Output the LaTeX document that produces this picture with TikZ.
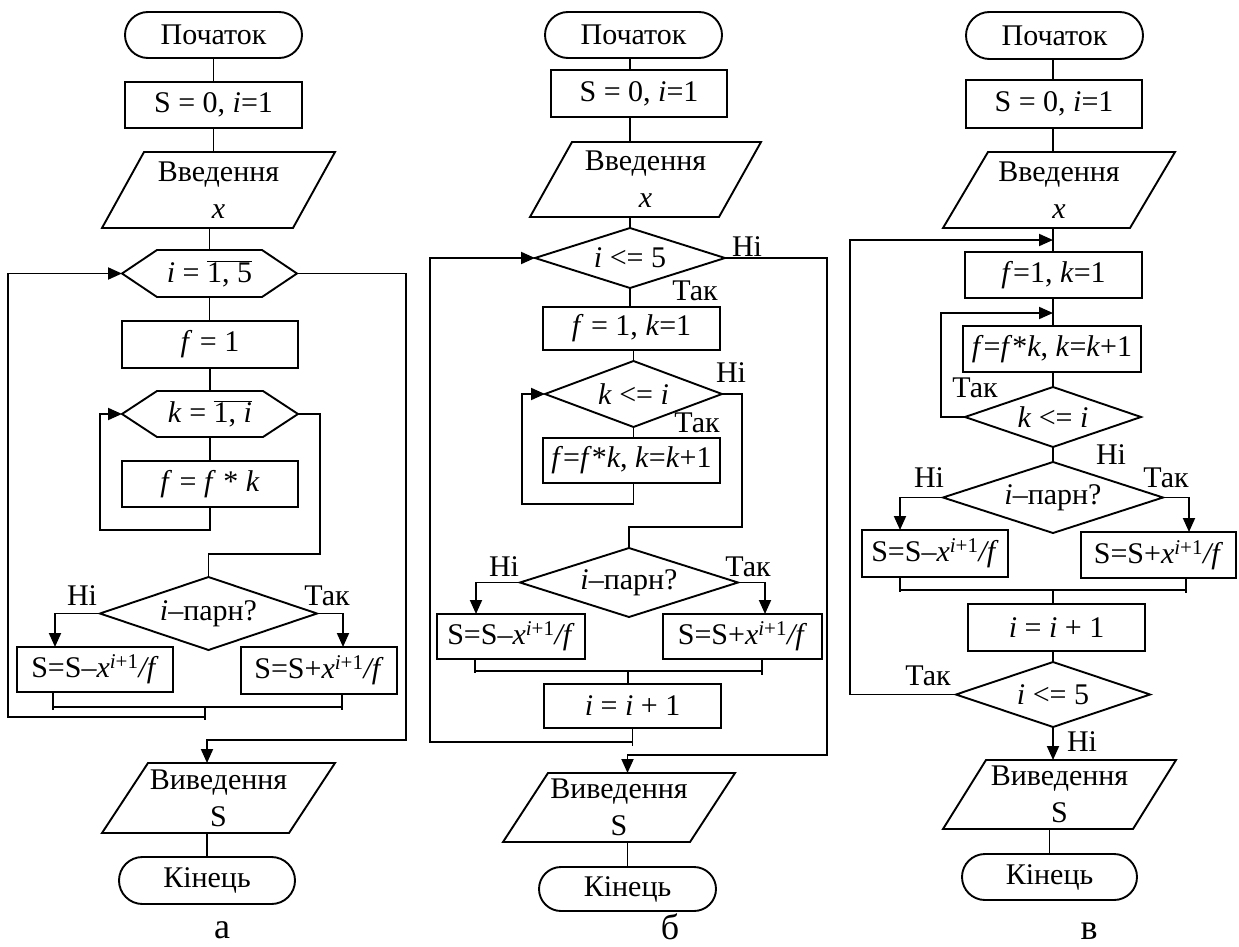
\documentclass[tikz,border=0pt]{standalone}
\usepackage{fontspec}
\setmainfont{Liberation Serif}
\usetikzlibrary{arrows.meta,calc,shapes.misc}
\newcommand\fs{\fontsize{30}{37}\selectfont}
\newcommand\mypar[2]{\draw ($(#1.north west)+(#2,0)$) -- (#1.north east) -- ($(#1.south east)+(-#2,0)$) -- (#1.south west) -- cycle;}
\newcommand\mydia[1]{\draw (#1.north) -- (#1.east) -- (#1.south) -- (#1.west) -- cycle;}
\newcommand\myhex[2]{\draw (#1.west) -- ($(#1.north west)+(#2,0)$) -- ($(#1.north east)+(-#2,0)$) -- (#1.east) -- ($(#1.south east)+(-#2,0)$) -- ($(#1.south west)+(#2,0)$) -- cycle;}
\newcommand\ov[1]{$\overline{\hbox{#1}}$}
\newcommand\Sminus{S=S–\textit{x}\textsuperscript{\textit{i}+1}\textit{/f}}
\newcommand\Splus{S=S+\textit{x}\textsuperscript{\textit{i}+1}\textit{/f}}
\begin{document}
\begin{tikzpicture}[x=1pt,y=-1pt,line width=1.9pt,
  >={Triangle[length=14pt,width=12pt]},
  every node/.style={font=\fs,inner sep=0pt,outer sep=0pt,align=center},
  term/.style={draw,rounded rectangle},
  proc/.style={draw,rectangle},
  ghost/.style={rectangle},
  caption/.style={font=\fontsize{36}{40}\selectfont,anchor=base}]
\useasboundingbox (0,0) rectangle (1239,947);

% ---------------- column a ----------------
\node[term,minimum width=177pt,minimum height=46pt] (a1) at (213.5,35) {Початок};
\node[proc,minimum width=177pt,minimum height=46pt] (a2) at (213.5,105) {S = 0, \textit{i}=1};
\node[ghost,minimum width=233pt,minimum height=76pt] (a3) at (218.5,190) {Введення\\\textit{x}};
\mypar{a3}{42}
\node[ghost,minimum width=175pt,minimum height=47pt] (a4) at (209.5,273.5) {\textit{i} = \ov{1, 5}};
\myhex{a4}{35}
\node[proc,minimum width=176pt,minimum height=47pt] (a5) at (210,344.5) {\textit{f} = 1};
\node[ghost,minimum width=176pt,minimum height=46pt] (a6) at (210,414) {\textit{k} = \ov{1, \textit{i}}};
\myhex{a6}{35}
\node[proc,minimum width=176pt,minimum height=46pt] (a7) at (210,484) {\textit{f} = \textit{f} * \textit{k}};
\node[ghost,minimum width=217pt,minimum height=73pt] (a8) at (208.5,613.5) {\textit{i}–парн?};
\mydia{a8}
\node[proc,minimum width=156pt,minimum height=45pt] (a9) at (95,669.5) {\Sminus};
\node[proc,minimum width=156pt,minimum height=47pt] (a10) at (319,670.5) {\Splus};
\node[ghost,minimum width=233pt,minimum height=70pt] (a11) at (218.5,798) {Виведення\\S};
\mypar{a11}{46}
\node[term,minimum width=176pt,minimum height=47pt] (a12) at (207,880.5) {Кінець};
\node[caption] (la) at (222,938) {а};
\node (aN) at (82,596) {Ні};
\node (aT) at (327,596) {Так};

\draw (a1) -- (a2);
\draw (a2.south) -- (a2.south |- a3.north);
\draw (a4.north |- a3.south) -- (a4.north);
\draw (a4.south) -- (a4.south |- a5.north);
\draw (a5) -- (a6);
\draw (a6) -- (a7);
\draw[->] (a7.south) -- ++(0,23) -| ($(a6.west)+(-22,0)$) -- (a6.west);
\draw (a6.east) -- ++(22,0) -- ++(0,140) -| (a8.north);
\draw[->] (a8.west) -| ($(a9.north west)+(38,0)$);
\draw[->] (a8.east) -| ($(a10.north west)+(102,0)$);
\draw ($(a9.south west)+(36,0)$) -- ++(0,18);
\draw ($(a10.south west)+(101,0)$) -- ++(0,16);
\draw ($(a9.south west)+(36,15)$) -- ($(a10.south west)+(101,13)$);
\coordinate (aJ) at (205,707);
\draw (aJ) -- ++(0,13);
\draw[->] ($(aJ)+(0,10)$) -| ($(a4.west)+(-114,0)$) -- (a4.west);
\draw[->] (a4.east) -- ++(109,0) |- ($(a12.north |- a11.north)+(0,-23)$) -- (a12.north |- a11.north);
\draw (a12.north |- a11.south) -- (a12.north);

% ---------------- column b ----------------
\node[term,minimum width=177pt,minimum height=46pt] (b1) at (633.5,35) {Початок};
\node[proc,minimum width=176pt,minimum height=47pt] (b2) at (639,93.5) {S = 0, \textit{i}=1};
\node[ghost,minimum width=231pt,minimum height=75pt] (b3) at (645.5,179.5) {Введення\\\textit{x}};
\mypar{b3}{42}
\node[ghost,minimum width=190pt,minimum height=60pt] (b4) at (630,258) {\textit{i} <= 5};
\mydia{b4}
\node[proc,minimum width=177pt,minimum height=43pt] (b5) at (631.5,328.5) {\textit{f} = 1, \textit{k}=1};
\node[ghost,minimum width=177pt,minimum height=66pt] (b6) at (633.5,394) {\textit{k} <= \textit{i}};
\mydia{b6}
\node[proc,minimum width=177pt,minimum height=45pt] (b7) at (631.5,460.5) {\textit{f}=\textit{f}*\textit{k}, \textit{k}=\textit{k}+1};
\node[ghost,minimum width=218pt,minimum height=69pt] (b8) at (629,582.5) {\textit{i}–парн?};
\mydia{b8}
\node[proc,minimum width=148pt,minimum height=45pt] (b9) at (511,636.5) {\Sminus};
\node[proc,minimum width=159pt,minimum height=45pt] (b10) at (742.5,636.5) {\Splus};
\node[proc,minimum width=177pt,minimum height=44pt] (b11) at (632.5,706) {\textit{i} = \textit{i} + 1};
\node[ghost,minimum width=232pt,minimum height=69pt] (b12) at (619,807.5) {Виведення\\S};
\mypar{b12}{45}
\node[term,minimum width=177pt,minimum height=44pt] (b13) at (627.5,889) {Кінець};
\node[caption] (lb) at (670,939) {б};
\node (bN1) at (747,247) {Ні};
\node (bT1) at (695,291) {Так};
\node (bN2) at (731,373) {Ні};
\node (bT2) at (697,423) {Так};
\node (bN3) at (504,567) {Ні};
\node (bT3) at (748,567) {Так};

\draw (b4.north |- b1.south) -- (b4.north |- b2.north);
\draw (b4.north |- b2.south) -- (b4.north |- b3.north);
\draw (b4.north |- b3.south) -- (b4.north);
\draw (b4.south) -- (b4.south |- b5.north);
\draw (b6.north |- b5.south) -- (b6.north);
\draw (b6.south) -- (b6.south |- b7.north);
\draw[->] (b6.south |- b7.south) -- ++(0,21) -| ($(b6.west)+(-23,0)$) -- (b6.west);
\draw (b6.east) -- ++(20,0) -- ++(0,133) -| (b8.north);
\draw[->] (b8.west) -| ($(b9.north west)+(39,0)$);
\draw[->] (b8.east) -| ($(b10.north west)+(102,0)$);
\draw ($(b9.south west)+(38,0)$) -- ++(0,14);
\draw ($(b10.south west)+(99,0)$) -- ++(0,16);
\draw ($(b9.south west)+(38,12)$) -- ($(b10.south west)+(99,12)$);
\coordinate (bJ) at (628,671);
\draw (bJ) -- (bJ |- b11.north);
\draw (b11.south) -- ++(0,18);
\draw[->] ($(b11.south)+(0,14)$) -| ($(b4.west)+(-105,0)$) -- (b4.west);
\draw[->] (b4.east) -- ++(102,0) |- ($(b13.north |- b12.north)+(0,-18)$) -- (b13.north |- b12.north);
\draw (b13.north |- b12.south) -- (b13.north);

% ---------------- column c ----------------
\node[term,minimum width=177pt,minimum height=47pt] (c1) at (1054.5,35.5) {Початок};
\node[proc,minimum width=176pt,minimum height=48pt] (c2) at (1054,104) {S = 0, \textit{i}=1};
\node[ghost,minimum width=232pt,minimum height=76pt] (c3) at (1059,190) {Введення\\\textit{x}};
\mypar{c3}{45}
\node[proc,minimum width=177pt,minimum height=46pt] (c4) at (1053.5,275) {\textit{f}=1, \textit{k}=1};
\node[proc,minimum width=178pt,minimum height=46pt] (c5) at (1052,349) {\textit{f}=\textit{f}*\textit{k}, \textit{k}=\textit{k}+1};
\node[ghost,minimum width=176pt,minimum height=60pt] (c6) at (1053,417) {\textit{k} <= \textit{i}};
\mydia{c6}
\node[ghost,minimum width=220pt,minimum height=71pt] (c7) at (1053,497.5) {\textit{i}–парн?};
\mydia{c7}
\node[proc,minimum width=146pt,minimum height=47pt] (c8) at (935,553.5) {\Sminus};
\node[proc,minimum width=155pt,minimum height=46pt] (c9) at (1158.5,555) {\Splus};
\node[proc,minimum width=177pt,minimum height=47pt] (c10) at (1056.5,627.5) {\textit{i} = \textit{i} + 1};
\node[ghost,minimum width=194pt,minimum height=65pt] (c11) at (1053,694.5) {\textit{i} <= 5};
\mydia{c11}
\node[ghost,minimum width=233pt,minimum height=69pt] (c12) at (1059.5,794.5) {Виведення\\S};
\mypar{c12}{43}
\node[term,minimum width=175pt,minimum height=46pt] (c13) at (1049.5,877) {Кінець};
\node[caption] (lc) at (1089,939) {в};
\node (cT1) at (975,388) {Так};
\node (cN1) at (1111,455) {Ні};
\node (cN2) at (929,478) {Ні};
\node (cT2) at (1166,478) {Так};
\node (cT3) at (928,676) {Так};
\node (cN3) at (1082,742) {Ні};

\draw (c7.north |- c1.south) -- (c7.north |- c2.north);
\draw (c7.north |- c2.south) -- (c7.north |- c3.north);
\draw (c7.north |- c3.south) -- (c7.north |- c4.north);
\draw (c7.north |- c4.south) -- (c7.north |- c5.north);
\draw (c6.north |- c5.south) -- (c6.north);
\draw (c6.south) -- (c7.north);
\draw[->] (c6.west) -- ++(-24,0) |- ($(c7.north |- c4.south)+(0,15)$);
\draw[->] (c11.west) -- ++(-106,0) |- ($(c7.north |- c3.south)+(0,12)$);
\draw[->] (c7.west) -| ($(c8.north west)+(38,0)$);
\draw[->] (c7.east) -| ($(c9.north west)+(108,0)$);
\draw ($(c8.south west)+(38,0)$) -- ++(0,15);
\draw ($(c9.south west)+(105,0)$) -- ++(0,15);
\draw ($(c8.south west)+(38,13)$) -- ($(c9.south west)+(105,12)$);
\coordinate (cJ) at (1053,590);
\draw (cJ) -- (cJ |- c10.north);
\draw (c11.north |- c10.south) -- (c11.north);
\draw[->] (c11.south) -- (c11.south |- c12.north);
\draw (c13.north |- c12.south) -- (c13.north);
\end{tikzpicture}
\end{document}
